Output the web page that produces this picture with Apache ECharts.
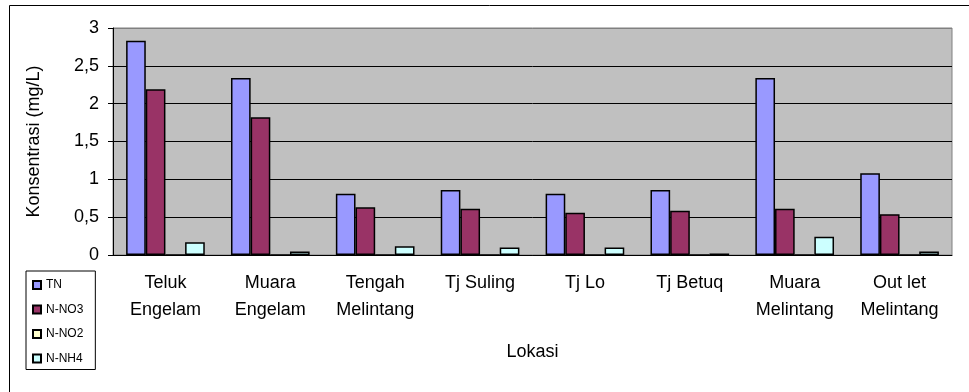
<!DOCTYPE html>
<html>
<head>
<meta charset="utf-8">
<script src="https://cdn.jsdelivr.net/npm/echarts@6/dist/echarts.min.js"></script>
<style>
  html, body { margin: 0; padding: 0; background: #fff; }
  #chart { width: 969px; height: 392px; }
</style>
</head>
<body>
<div id="chart"></div>
<script>
// lokasi sampling
const lokasi = ['Teluk\nEngelam', 'Muara\nEngelam', 'Tengah\nMelintang', 'Tj Suling', 'Tj Lo', 'Tj Betuq', 'Muara\nMelintang', 'Out let\nMelintang'];

// konsentrasi (mg/L)
const tn   = [2.83, 2.34, 0.81, 0.86, 0.81, 0.86, 2.34, 1.08];
const nNO3 = [2.19, 1.82, 0.63, 0.61, 0.56, 0.585, 0.61, 0.54];
const nNO2 = [0, 0, 0, 0, 0, 0, 0, 0];
const nNH4 = [0.17, 0.045, 0.115, 0.10, 0.10, 0.02, 0.24, 0.045];

const yTickLabels = ['0', '0,5', '1', '1,5', '2', '2,5', '3'];

const font = 'Liberation Sans, Arial, sans-serif';

function barSeries(name, data, color) {
    return {
        name: name,
        type: 'bar',
        data: data,
        barGap: 0,
        barCategoryGap: '25%',
        itemStyle: { color: color, borderColor: '#000', borderWidth: 1.5 }
    };
}

var chart = echarts.init(document.getElementById('chart'));
chart.setOption({
    animation: false,
    textStyle: { fontFamily: font, color: '#000' },
    graphic: [{
        type: 'rect',
        shape: { x: 9.5, y: 5.5, width: 990, height: 420 },
        style: { fill: 'none', stroke: '#000', lineWidth: 1 },
        z: 0
    }],
    grid: {
        left: 113, right: 17, top: 28, bottom: 137,
        show: true, backgroundColor: '#C0C0C0',
        borderColor: '#808080', borderWidth: 1
    },
    legend: {
        orient: 'vertical',
        left: 26, top: 271,
        icon: 'rect',
        itemWidth: 8, itemHeight: 8,
        itemGap: 10.5,
        padding: [7, 12, 4, 6],
        backgroundColor: '#fff',
        borderColor: '#000', borderWidth: 1,
        textStyle: { fontSize: 12, lineHeight: 14, fontFamily: font, color: '#000' },
        data: ['TN', 'N-NO3', 'N-NO2', 'N-NH4']
    },
    xAxis: {
        type: 'category',
        data: lokasi,
        name: 'Lokasi',
        nameLocation: 'middle',
        nameGap: 88,
        nameTextStyle: { fontSize: 18, fontFamily: font, color: '#000' },
        axisLine: { lineStyle: { color: '#000', width: 1 } },
        axisTick: { length: 5, lineStyle: { color: '#000' } },
        axisLabel: { interval: 0, fontSize: 18, lineHeight: 27, margin: 15, color: '#000', fontFamily: font }
    },
    yAxis: {
        type: 'value',
        min: 0, max: 3, interval: 0.5,
        name: 'Konsentrasi (mg/L)',
        nameLocation: 'middle',
        nameGap: 70,
        nameTextStyle: { fontSize: 18, fontFamily: font, color: '#000' },
        axisLine: { show: true, lineStyle: { color: '#000', width: 1 } },
        axisTick: { show: true, length: 5, lineStyle: { color: '#000' } },
        axisLabel: {
            fontSize: 18, margin: 14, color: '#000', fontFamily: font,
            formatter: function (v) { return yTickLabels[Math.round(v / 0.5)]; }
        },
        splitLine: { lineStyle: { color: ['#000', '#000', '#000', '#000', '#000', '#000', '#808080'], width: 1 } }
    },
    series: [
        barSeries('TN', tn, '#9999FF'),
        barSeries('N-NO3', nNO3, '#993366'),
        barSeries('N-NO2', nNO2, '#FFFFCC'),
        barSeries('N-NH4', nNH4, '#CCFFFF')
    ]
});
</script>
</body>
</html>
